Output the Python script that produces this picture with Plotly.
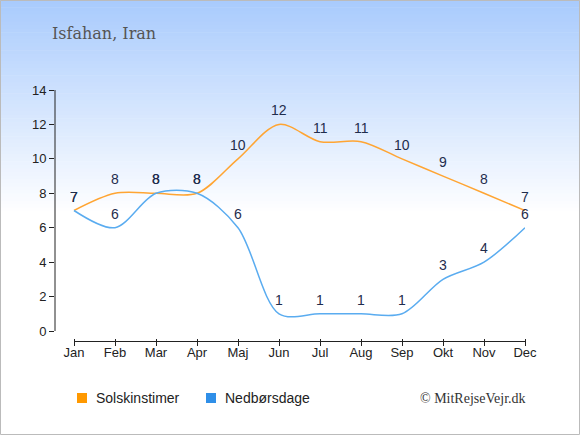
import plotly.graph_objects as go

months = ['Jan', 'Feb', 'Mar', 'Apr', 'Maj', 'Jun', 'Jul', 'Aug', 'Sep', 'Okt', 'Nov', 'Dec']
sun_hours = [7, 8, 8, 8, 10, 12, 11, 11, 10, 9, 8, 7]
rain_days = [7, 6, 8, 8, 6, 1, 1, 1, 1, 3, 4, 6]
y_ticks = [0, 2, 4, 6, 8, 10, 12, 14]

W, H = 580, 435
PLOT_TOP, PLOT_BOTTOM = 90, 338
PLOT_LEFT, PLOT_RIGHT = 55, 525
PW = PLOT_RIGHT - PLOT_LEFT

orange = '#ffa533'
blue = '#5aacf0'
label_color = '#1f2d4d'


def py(p):
    # pixel row -> paper y of the plot area
    return (PLOT_BOTTOM - p) / (PLOT_BOTTOM - PLOT_TOP)


def pxx(p):
    # pixel column -> paper x of the plot area
    return (p - PLOT_LEFT) / PW


fig = go.Figure()

fig.add_trace(go.Scatter(
    x=months, y=sun_hours, mode='lines', name='Solskinstimer',
    line=dict(color=orange, width=1.5, shape='spline', smoothing=0.9),
    showlegend=False, hoverinfo='skip',
))
fig.add_trace(go.Scatter(
    x=months, y=rain_days, mode='lines', name='Nedbørsdage',
    line=dict(color=blue, width=1.5, shape='spline', smoothing=0.9),
    showlegend=False, hoverinfo='skip',
))

annotations = []
# value labels above the points
for series in (sun_hours, rain_days):
    for m, v in zip(months, series):
        annotations.append(dict(x=m, y=v, text=str(v), showarrow=False, yshift=14,
                                font=dict(color=label_color, size=14,
                                          family='Liberation Sans, Arial')))

# background gradient, light blue at top fading to white
shapes = []
top_c = (169, 203, 253)
n_bands = 60
grad_end = 215
for i in range(n_bands):
    p0 = grad_end * i / n_bands
    p1 = grad_end * (i + 1) / n_bands + 0.6
    t = i / (n_bands - 1)
    c = tuple(int(round(top_c[k] + (255 - top_c[k]) * t)) for k in range(3))
    shapes.append(dict(type='rect', xref='paper', yref='paper', layer='below',
                       x0=-0.2, x1=1.2, y0=py(p1), y1=py(p0),
                       line=dict(width=0), fillcolor='rgb(%d,%d,%d)' % c))

# axis lines
shapes.append(dict(type='line', xref='paper', yref='y', x0=0, x1=0, y0=0, y1=14,
                   line=dict(color='#222', width=1)))
shapes.append(dict(type='line', xref='x', yref='paper', x0=0, x1=11,
                   y0=py(341.5), y1=py(341.5),
                   line=dict(color='#222', width=1)))
# outer border
shapes.append(dict(type='rect', xref='paper', yref='paper', layer='above',
                   x0=pxx(0.5), x1=pxx(579.5), y0=py(434.5), y1=py(0.5),
                   line=dict(color='#bbbbbb', width=1)))

# legend drawn by hand: squares + labels
legend_items = [('Solskinstimer', '#ff9900', 77), ('Nedbørsdage', '#2f8fe8', 206)]
for name, col, x0 in legend_items:
    shapes.append(dict(type='rect', xref='paper', yref='paper',
                       x0=pxx(x0), x1=pxx(x0 + 10), y0=py(403), y1=py(393),
                       line=dict(width=0), fillcolor=col))
    annotations.append(dict(text=name, xref='paper', yref='paper', x=pxx(x0 + 17), y=py(398),
                            xanchor='left', yanchor='middle', showarrow=False,
                            font=dict(size=14, color='#222', family='Liberation Sans, Arial')))

annotations.append(dict(text='Isfahan, Iran', xref='paper', yref='paper', x=pxx(50), y=py(33),
                        xanchor='left', yanchor='middle', showarrow=False,
                        font=dict(family='DejaVu Serif, Georgia, serif', size=16, color='#555')))
annotations.append(dict(text='© MitRejseVejr.dk', xref='paper', yref='paper', x=pxx(528), y=py(398),
                        xanchor='right', yanchor='middle', showarrow=False,
                        font=dict(family='Liberation Serif, Georgia, serif', size=14, color='#333')))

fig.update_layout(
    width=W, height=H,
    margin=dict(l=PLOT_LEFT, r=W - PLOT_RIGHT, t=PLOT_TOP, b=H - PLOT_BOTTOM),
    paper_bgcolor='white',
    plot_bgcolor='rgba(0,0,0,0)',
    shapes=shapes,
    annotations=annotations,
    showlegend=False,
    font=dict(family='Liberation Sans, Arial', size=13, color='#222'),
    xaxis=dict(
        range=[-19 / 41, 11], showgrid=False, zeroline=False, showline=False,
        ticks='outside', ticklen=7, tickcolor='#222', tickwidth=1,
        ticklabelstandoff=-5,
        tickfont=dict(size=13, color='#222'),
    ),
    yaxis=dict(
        range=[-7 / 17.214, 14], tickvals=y_ticks, showgrid=False, zeroline=False,
        showline=False, ticks='outside', ticklen=5, tickcolor='#222',
        tickfont=dict(size=13, color='#222'),
    ),
)

fig.write_html("out.html", config={'displayModeBar': False},
               post_script="document.body.style.margin='0';")
